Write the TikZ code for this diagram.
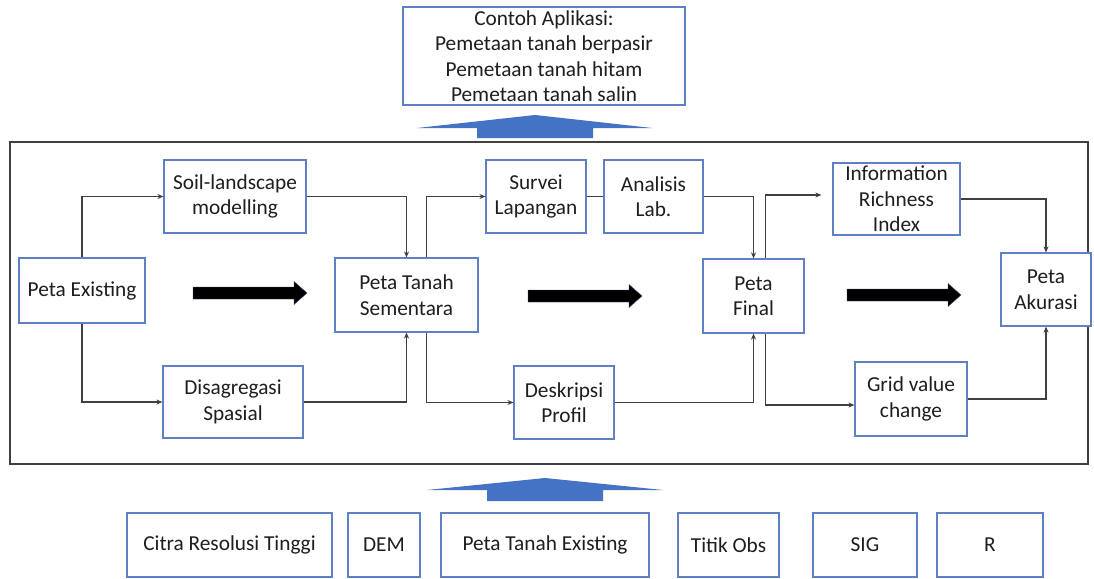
\documentclass[tikz,border=0pt]{standalone}
\usepackage{fontspec}
\setmainfont{Carlito}
\usetikzlibrary{arrows.meta}
\definecolor{boxline}{RGB}{96,128,196}
\definecolor{blockblue}{RGB}{68,114,196}
\definecolor{connline}{RGB}{64,64,64}
\definecolor{txt}{RGB}{30,30,30}
\tikzset{
  box/.style={draw=boxline, line width=1.2pt, fill=white, inner sep=0pt,
    align=center, text=txt, font=\fontsize{21.3}{25.5}\selectfont},
  conn/.style={draw=connline, line width=1.2pt,
    -{Stealth[length=6pt,width=5pt]}},
  link/.style={draw=connline, line width=1.2pt},
  pics/bigarrow/.style={code={
    \fill[black, draw=boxline!60!black, line width=0.4pt]
      (0,-6) -- (101,-6) -- (101,-11.5) -- (114,0) -- (101,11.5)
      -- (101,6) -- (0,6) -- cycle;}}
}
\begin{document}
\begin{tikzpicture}[x=1pt,y=-1pt]
\useasboundingbox (0,0) rectangle (1094,578);

% applications box and upward block arrow
\node[box, minimum width=282pt, minimum height=98pt] (app) at (544,56)
  {Contoh Aplikasi:\\Pemetaan tanah berpasir\\Pemetaan tanah hitam\\Pemetaan tanah salin};
\fill[blockblue] (417,128) -- (535,115) -- (652,128) -- (593,128) -- (593,138)
  -- (477,138) -- (477,128) -- cycle;

% workflow frame
\draw[connline, line width=1.4pt] (10,142) rectangle (1088,464);

% workflow stages
\node[box, minimum width=126pt, minimum height=65pt] (pe)   at (82,290.5)   {Peta Existing};
\node[box, minimum width=142pt, minimum height=73pt] (soil) at (235,196.5)  {Soil-landscape\\modelling};
\node[box, minimum width=140pt, minimum height=72pt] (dis)  at (233,402)    {Disagregasi\\Spasial};
\node[box, minimum width=143pt, minimum height=74pt] (pts)  at (406.5,295)  {Peta Tanah\\Sementara};
\node[box, minimum width=100pt, minimum height=73pt] (surv) at (536,196.5)  {Survei\\Lapangan};
\node[box, minimum width=99pt,  minimum height=73pt] (anl)  at (653.5,196.5){Analisis\\Lab.};
\node[box, minimum width=100pt, minimum height=73pt] (desk) at (564,402.5)  {Deskripsi\\Profil};
\node[box, minimum width=101pt, minimum height=74pt] (pf)   at (753.5,296)  {Peta\\Final};
\node[box, minimum width=127pt, minimum height=72pt] (iri)  at (896.5,199)  {Information\\Richness\\Index};
\node[box, minimum width=112pt, minimum height=74pt] (grid) at (911,399)    {Grid value\\change};
\node[box, minimum width=90pt,  minimum height=73pt] (akr)  at (1046,289.5) {Peta\\Akurasi};

% connectors
\draw[conn] (pe.north) |- (soil.west);
\draw[conn] (pe.south) |- (dis.west);
\draw[conn] (soil.east) -| (pts.north);
\draw[conn] (dis.east) -| (pts.south);
\draw[conn] ([xshift=20pt]pts.north) |- (surv.west);
\draw[conn] ([xshift=20pt]pts.south) |- (desk.west);
\draw[link] (surv.east) -- (anl.west);
\draw[conn] (anl.east) -| (pf.north);
\draw[conn] (desk.east) -| (pf.south);
\draw[conn, shorten >=11pt] ([xshift=12pt]pf.north) |- ([yshift=4pt]iri.west);
\draw[conn] ([xshift=12pt]pf.south) |- ([yshift=-6pt]grid.west);
\draw[conn] (iri.east) -| (akr.north);
\draw[conn] (grid.east) -| (akr.south);

% stage progression arrows
\pic at (193,293) {bigarrow};
\pic at (528,296) {bigarrow};
\pic at (847,295) {bigarrow};

% upward block arrow from inputs
\fill[blockblue] (427,490) -- (545,478) -- (663,490) -- (603,490) -- (603,501)
  -- (487,501) -- (487,490) -- cycle;

% input data
\node[box, minimum width=205pt, minimum height=64pt] (citra) at (229.5,545) {Citra Resolusi Tinggi};
\node[box, minimum width=72pt,  minimum height=64pt] (dem)   at (384,545)   {DEM};
\node[box, minimum width=208pt, minimum height=64pt] (pte)   at (545,545)   {Peta Tanah Existing};
\node[box, minimum width=101pt, minimum height=64pt] (titik) at (728.5,545) {Titik Obs};
\node[box, minimum width=104pt, minimum height=64pt] (sig)   at (865,545)   {SIG};
\node[box, minimum width=106pt, minimum height=64pt] (r)     at (990,545)   {R};
\end{tikzpicture}
\end{document}
